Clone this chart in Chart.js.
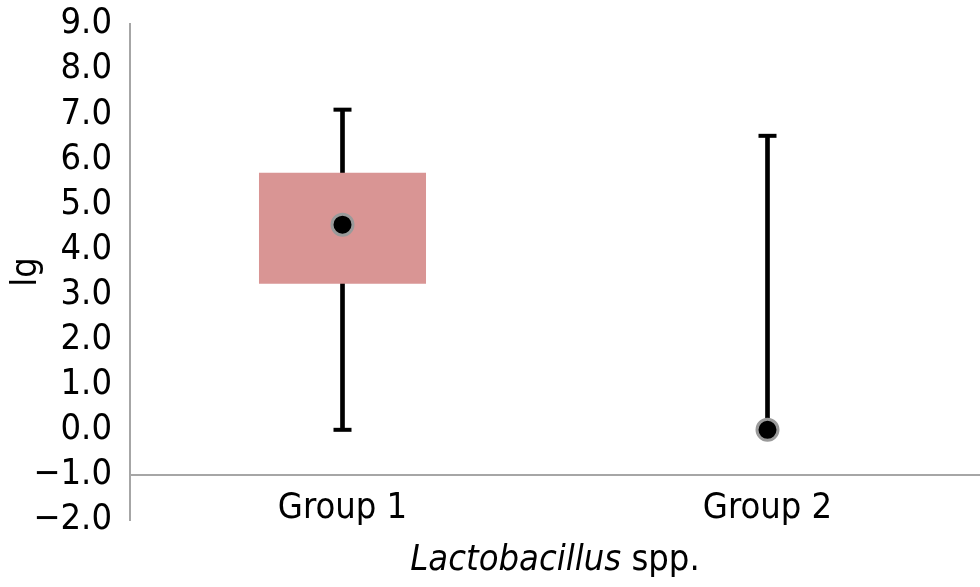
<!DOCTYPE html>
<html><head><meta charset="utf-8">
<script src="https://cdn.jsdelivr.net/npm/chart.js@4"></script>
<style>html,body{margin:0;padding:0;background:#fff;overflow:hidden}#wrap{width:980px;height:587px}canvas{display:block}</style>
</head><body><div id="wrap"><canvas id="c" width="980" height="587"></canvas></div>
<script>
const categories = ['Group 1', 'Group 2'];
const whiskerLow = [0, 0];
const whiskerHigh = [7.1, 6.52];
const boxLow = [3.24, null];
const boxHigh = [5.7, null];
const medians = [4.55, 0];
const yMin = -2, yMax = 9, yStep = 1;
const xAxisAt = -1;
const yTitle = 'lg';
const xTitleItalic = 'Lactobacillus';
const xTitleRest = ' spp.';
const FONT = '"Liberation Sans Narrow", "DejaVu Sans Condensed", sans-serif';

const xTitlePlugin = {
  id: 'xTitle',
  afterDraw(chart) {
    const ctx = chart.ctx, ca = chart.chartArea;
    ctx.save();
    ctx.fillStyle = '#000';
    ctx.textBaseline = 'alphabetic';
    ctx.textAlign = 'left';
    ctx.font = 'italic 36px ' + FONT;
    const w1 = ctx.measureText(xTitleItalic).width;
    ctx.font = '36px ' + FONT;
    const w2 = ctx.measureText(xTitleRest).width;
    const x0 = (ca.left + ca.right) / 2 - (w1 + w2) / 2;
    const y = 570;
    ctx.font = 'italic 36px ' + FONT;
    ctx.fillText(xTitleItalic, x0, y);
    ctx.font = '36px ' + FONT;
    ctx.fillText(xTitleRest, x0 + w1, y);
    ctx.restore();
  }
};

new Chart(document.getElementById('c'), {
  data: {
    labels: categories,
    datasets: [
      {
        type: 'bar',
        data: categories.map((c, i) => [whiskerLow[i], whiskerHigh[i]]),
        backgroundColor: '#000',
        barThickness: 4,
        grouped: false,
        order: 3
      },
      {
        type: 'bar',
        data: categories.map((c, i) => boxLow[i] == null ? null : [boxLow[i], boxHigh[i]]),
        backgroundColor: '#d99594',
        barPercentage: 0.393,
        categoryPercentage: 1,
        grouped: false,
        order: 2
      },
      {
        type: 'line',
        data: whiskerHigh,
        showLine: false,
        pointStyle: 'line',
        pointRadius: 9,
        pointBorderWidth: 4,
        borderColor: '#000',
        backgroundColor: '#000',
        order: 1
      },
      {
        type: 'line',
        data: whiskerLow,
        showLine: false,
        pointStyle: 'line',
        pointRadius: 9,
        pointBorderWidth: 4,
        borderColor: '#000',
        backgroundColor: '#000',
        order: 1
      },
      {
        type: 'line',
        data: medians,
        showLine: false,
        pointRadius: 10.5,
        pointBorderWidth: 3,
        borderColor: '#9a9a9a',
        backgroundColor: '#000',
        order: 0
      }
    ]
  },
  options: {
    responsive: false,
    animation: false,
    devicePixelRatio: 1,
    layout: { autoPadding: false, padding: { top: 24, right: 0, bottom: 67, left: 0 } },
    plugins: { legend: { display: false }, tooltip: { enabled: false } },
    scales: {
      x: {
        type: 'category',
        position: { y: xAxisAt },
        offset: true,
        grid: { display: false, drawTicks: false },
        border: { display: true, color: '#a6a6a6', width: 2 },
        ticks: { color: '#000', font: { family: FONT, size: 36 }, padding: 12, maxRotation: 0, autoSkip: false },
        afterFit: s => { s.paddingLeft = 0; s.paddingRight = 0; }
      },
      y: {
        min: yMin, max: yMax,
        ticks: {
          stepSize: yStep,
          autoSkip: false,
          color: '#000',
          font: { family: FONT, size: 36 },
          padding: 18,
          callback: v => (v < 0 ? '\u2212' : '') + Math.abs(v).toFixed(1)
        },
        grid: { display: false, drawTicks: false },
        border: { display: true, color: '#a6a6a6', width: 2 },
        title: { display: true, text: yTitle, color: '#000', font: { family: FONT, size: 36 }, padding: { top: 5, bottom: 0 } },
        afterFit: s => { s.width = 130; s.paddingTop = 0; s.paddingBottom = 0; }
      }
    }
  },
  plugins: [xTitlePlugin]
});
</script>
</body></html>
